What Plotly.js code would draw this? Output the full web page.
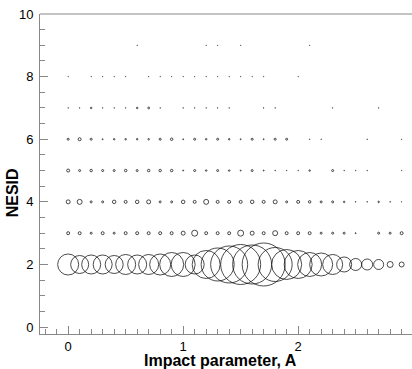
<!DOCTYPE html>
<html>
<head>
<meta charset="utf-8">
<script src="https://cdn.plot.ly/plotly-3.0.1.min.js"></script>
<style>html,body{margin:0;padding:0;background:#fff;}#chart{width:412px;height:369px;}</style>
</head>
<body>
<div id="chart"></div>
<script>
// Impact parameter values (A)
const impact = [0.0,0.1,0.2,0.3,0.4,0.5,0.6,0.7,0.8,0.9,1.0,1.1,1.2,1.3,1.4,1.5,1.6,1.7,1.8,1.9,2.0,2.1,2.2,2.3,2.4,2.5,2.6,2.7,2.8,2.9];
// NESID rows
const nesidRows = [2,3,4,5,6,7,8,9];
// bubble magnitude per row (marker diameter), 0 = no point
const row2 = [21,18,19,19,18,20,19,20,21,24,24,19,28,33,37,40,39,43,34,30,28,24,23,20,15,12,11,10,6,5];
const row3 = [3,3,2,3,2,3,3,3,3,3,4,6,3,3,3,6,4,3,5,3,3,3,2,2,2,1,0,2,2,3];
const row4 = [4,5,2,2,3.5,3,3.5,4,2,2,3.5,3,5,3,3,3,3.5,3,4,2,3,2.5,2,2,1.5,0.7,0.7,1.5,0.7,0.5];
const row5 = [3,2,2.5,2,2,2.5,2,2.5,2.5,2.5,1,2,1.5,2,1.5,1,2,1,0.7,0.6,0.6,1.5,0,2,0.6,0.6,0.6,0,0,0.5];
const row6 = [2,3,2,1,1.5,1.5,1.5,1.5,2,2.5,1,2,1.5,2,1.5,1,2,1,2,2,0,0.6,0.6,0,0,0,0.6,0,0,0.5];
const row7 = [0.6,0.6,1.5,0.6,0.6,0.6,1.5,1.8,0.6,0,0.6,0.6,0.6,0.6,0.6,0,0,0.6,0.6,0,0,0,0,0.6,0,0,0,0.6,0,0];
const row8 = [0.5,0,0.5,0.5,0.5,0.5,0,0.5,0.5,0.5,0.5,0.5,0.5,0.5,0.5,0.5,0.5,0.5,0,0,0.5,0,0,0,0,0,0,0,0,0];
const row9 = [0,0,0,0,0,0,0.5,0,0,0,0,0,0.5,0.5,0,0.5,0,0,0,0,0,0.5,0,0,0,0,0,0,0,0];
const sizesByRow = [row2,row3,row4,row5,row6,row7,row8,row9];
const xTickVals = [0,1,2,3];
const yTickVals = [0,2,4,6,8,10];
const xTitle = 'Impact parameter, A';
const yTitle = 'NESID';

const traces = nesidRows.map((yv, i) => {
  const xs = [], ys = [], ss = [];
  sizesByRow[i].forEach((s, j) => {
    if (s > 0) { xs.push(impact[j]); ys.push(yv); ss.push(s); }
  });
  return {
    type: 'scatter', mode: 'markers', x: xs, y: ys, cliponaxis: true,
    marker: {symbol: 'circle-open', size: ss, color: '#000', line: {width: 1, color: '#000'}},
    hoverinfo: 'none', showlegend: false
  };
});

const FONT = 'Liberation Sans, Arial, sans-serif';
const axisCommon = {
  showgrid: false, zeroline: false, showline: true, linecolor: '#888', linewidth: 1,
  ticks: 'inside', ticklen: 8, tickcolor: '#888', tickwidth: 1,
  tickfont: {family: FONT, size: 13, color: '#000'},
  mirror: false
};

const layout = {
  width: 412, height: 369,
  margin: {l: 40, r: 0, t: 14, b: 35},
  paper_bgcolor: '#fff', plot_bgcolor: '#fff',
  xaxis: Object.assign({}, axisCommon, {
    range: [-0.245, 2.99], tickvals: xTickVals, ticktext: xTickVals.map(String),
    minor: {dtick: 0.1, ticks: 'inside', ticklen: 5, tickcolor: '#888', showgrid: false}
  }),
  yaxis: Object.assign({}, axisCommon, {
    range: [-0.22, 10], tickvals: yTickVals, ticktext: yTickVals.map(String),
    ticklabelstandoff: 3,
    minor: {dtick: 0.5, ticks: 'inside', ticklen: 5, tickcolor: '#888', showgrid: false}
  }),
  annotations: [
    {text: '<b>' + xTitle + '</b>', xref: 'paper', yref: 'paper', x: 0.485, y: -0.083,
     xanchor: 'center', yanchor: 'middle', showarrow: false,
     font: {family: FONT, size: 16, color: '#000'}},
    {text: '<b>' + yTitle + '</b>', xref: 'paper', yref: 'paper', x: -0.075, y: 0.44,
     xanchor: 'center', yanchor: 'middle', textangle: -90, showarrow: false,
     font: {family: FONT, size: 16, color: '#000'}}
  ],
  shapes: [
    {type: 'line', xref: 'paper', yref: 'paper', x0: 0, x1: 1, y0: 1, y1: 1, line: {color: '#888', width: 1}}
  ]
};

Plotly.newPlot('chart', traces, layout, {staticPlot: true, displayModeBar: false});
</script>
</body>
</html>
